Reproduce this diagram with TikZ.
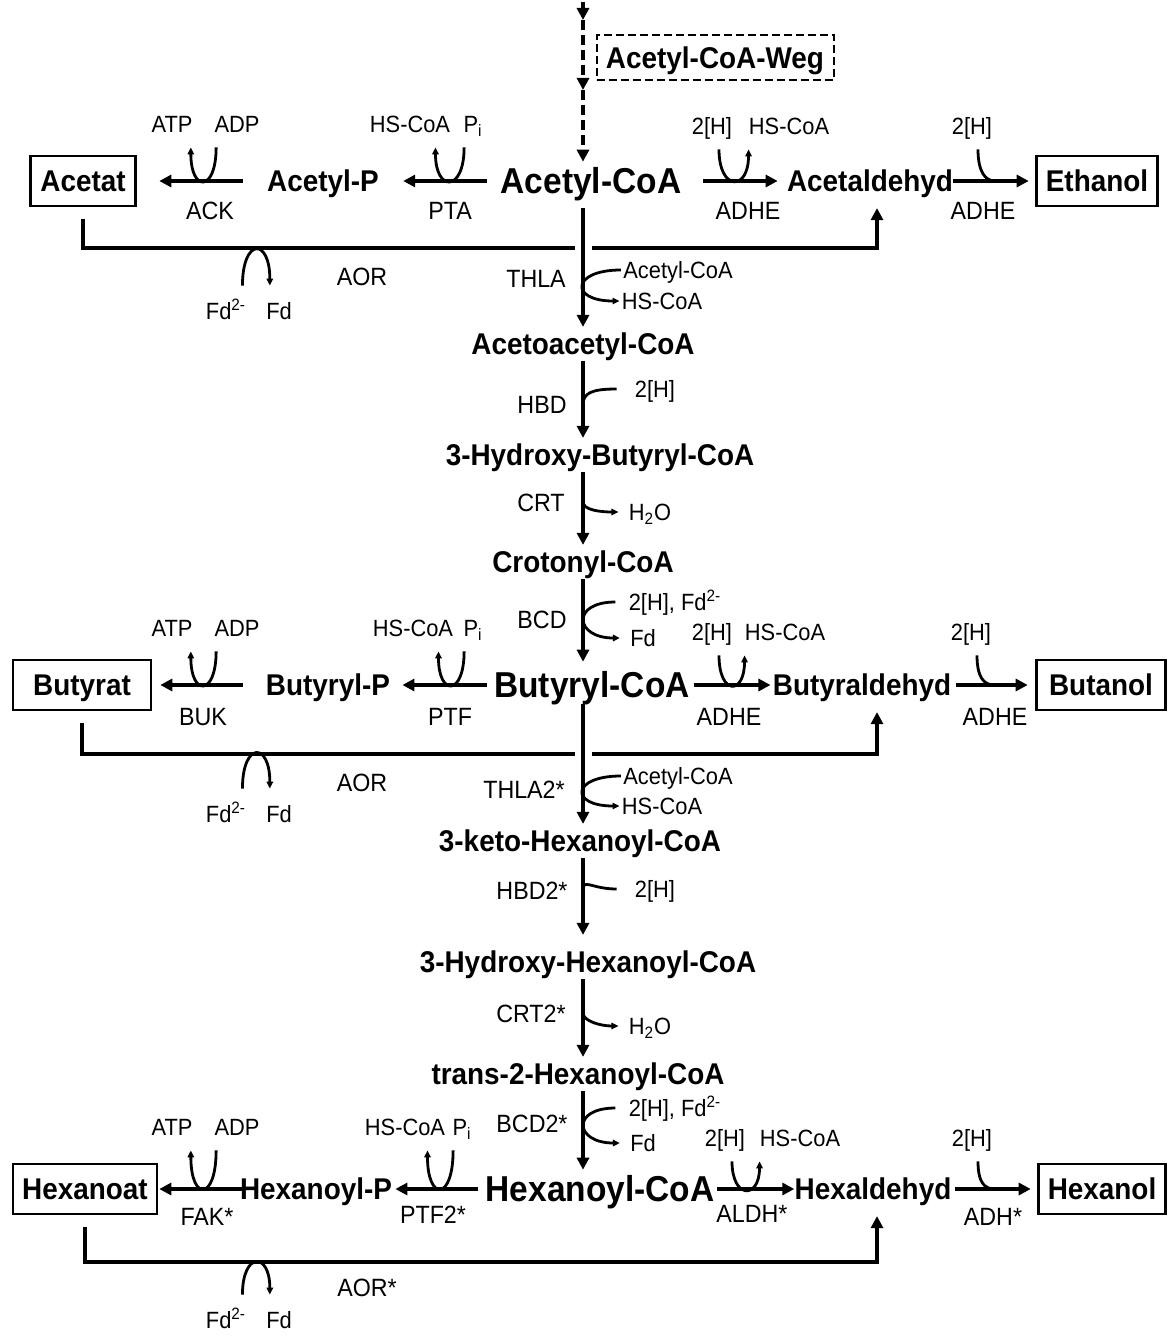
\documentclass[tikz,border=0pt]{standalone}
\usepackage{fontspec}
\setmainfont{Liberation Sans}[FakeStretch=0.93]
\usetikzlibrary{arrows.meta,positioning}
\tikzset{
  met/.style={font=\fontsize{15}{18}\selectfont\bfseries, inner xsep=0pt, inner ysep=3pt, text height=10.7pt, text depth=0pt},
  bigmet/.style={met, font=\fontsize{18}{21}\selectfont\bfseries, text height=12.9pt},
  endp/.style={draw, line width=1.3pt, font=\fontsize{15}{18}\selectfont\bfseries, text height=10.7pt, text depth=0pt, minimum height=25pt, inner xsep=0pt},
  weg/.style={draw, line width=1pt, dash pattern=on 4pt off 2pt, font=\fontsize{15}{18}\selectfont\bfseries, text height=10.7pt, text depth=0pt, minimum width=118.5pt, minimum height=22.5pt},
  enz/.style={font=\fontsize{12.5}{15}\selectfont, inner sep=0pt, text height=9pt, text depth=0pt},
  cof/.style={font=\fontsize{11.75}{14}\selectfont, inner sep=0pt, text height=8.4pt, text depth=0pt, outer ysep=7.5pt},
  sidecof/.style={font=\fontsize{11.75}{14}\selectfont, inner xsep=1pt, inner ysep=0pt, text height=8.4pt, text depth=0pt},
  fdl/.style={cof, outer ysep=8.5pt},
  rxn/.style={-{Triangle[length=6pt,width=6pt]}, line width=2pt},
  dashrxn/.style={rxn, dash pattern=on 5pt off 2.5pt},
  bypass/.style={line width=2pt},
  cofarr/.style={-{Triangle[length=3.5pt,width=3.2pt]}, line width=1.4pt},
  hookln/.style={line width=1.4pt},
}
\begin{document}
\begin{tikzpicture}[x=0.5pt,y=-0.5pt]
\useasboundingbox (0,0) rectangle (1167,1336);
\coordinate (col) at (583,0);

% main chain
\node[bigmet] (accoa) at (591,181) {Acetyl-CoA};
\node[bigmet] (bucoa) at (592,685) {Butyryl-CoA};
\node[bigmet] (hexcoa) at (600,1189) {Hexanoyl-CoA};
\foreach \n/\t/\x/\y in {acac/Acetoacetyl-CoA/583/344, hbcoa/3-Hydroxy-Butyryl-CoA/600/455, crcoa/Crotonyl-CoA/583/562, kethex/3-keto-Hexanoyl-CoA/580/841, hhcoa/3-Hydroxy-Hexanoyl-CoA/588/962, trcoa/trans-2-Hexanoyl-CoA/578/1074}
  \node[met] (\n) at (\x,\y) {\t};
\foreach \n/\t/\x/\y in {pa/Acetyl-P/323/181, alda/Acetaldehyd/870/181, pb/Butyryl-P/328/685, aldb/Butyraldehyd/862/685, pc/Hexanoyl-P/316/1189, aldc/Hexaldehyd/873/1189}
  \node[met] (\n) at (\x,\y) {\t};

% end products
\foreach \n/\t/\x/\w/\y in {acida/Acetat/83/52.5/181, acidb/Butyrat/82/69/685, acidc/Hexanoat/85/72/1189, alca/Ethanol/1097/60.5/181, alcb/Butanol/1101/64.5/685, alcc/Hexanol/1102/63.5/1189}
  \node[endp, minimum width=\w pt] (\n) at (\x,\y) {\t};
\node[weg] (weg) at (715,58) {Acetyl-CoA-Weg};

% enzymes
\foreach \n/\t/\x/\y in {acka/ACK/210/211, ptaa/PTA/450/211, adhea/ADHE/748/211, adhfa/ADHE/983/211, aora/AOR/362/277,
    thla/THLA/536/279, hbd/HBD/542/405, crt/CRT/541/502, bcd/BCD/542/619,
    bukb/BUK/203/716, ptfb/PTF/450/716, adheb/ADHE/729/716, adhfb/ADHE/995/716, aorb/AOR/362/782,
    thlb/THLA2*/524/789, hbdb/HBD2*/532/890, crtb/CRT2*/531/1013, bcdb/BCD2*/532/1123,
    fakc/FAK*/207/1216, ptfc/PTF2*/433/1214, aldhc/ALDH*/752/1213, adhc/ADH*/993/1216, aorc/AOR*/367/1287}
  \node[enz] (\n) at (\x,\y) {\t};

% cofactors over the side reactions
\foreach \r/\y in {a/124, b/628, c/1127} {
  \node[cof] (atp\r) at (172,\y) {ATP};
  \node[cof] (adp\r) at (237,\y) {ADP};
}
\foreach \n/\t/\x/\y in {hsa/HS-CoA/410/124, pia/P\textsubscript{i}/473/124, hha/2[H]/712/126, hsra/HS-CoA/789/126, hea/2[H]/972/126,
    hsb/HS-CoA/413/628, pib/P\textsubscript{i}/473/628, hhb/2[H]/712/632, hsrb/HS-CoA/785/632, heb/2[H]/971/632,
    hsc/HS-CoA/405/1127, pic/P\textsubscript{i}/462/1127, hhc/2[H]/725/1138, hsrc/HS-CoA/800/1138, hec/2[H]/972/1138}
  \node[cof] (\n) at (\x,\y) {\t};
\foreach \r/\y in {a/311, b/814, c/1320} {
  \node[fdl] (fdr\r) at (226,\y) {Fd\textsuperscript{2-}};
  \node[fdl] (fdo\r) at (279,\y) {Fd};
}

% cofactors along the chain
\foreach \n/\t/\x/\y in {acs1/Acetyl-CoA/678/270, hss1/HS-CoA/662/301, hh1/2[H]/655/389, wa1/H\textsubscript{2}O/650/512, red1/{2[H], Fd\textsuperscript{2-}}/675/602, fd1/Fd/643/638,
    acs2/Acetyl-CoA/678/776, hss2/HS-CoA/662/806, hh2/2[H]/655/889, wa2/H\textsubscript{2}O/650/1026, red2/{2[H], Fd\textsuperscript{2-}}/675/1108, fd2/Fd/643/1143}
  \node[sidecof] (\n) at (\x,\y) {\t};

% Acetyl-CoA-Weg
\coordinate (wtop) at (583,2);
\coordinate (w1) at (583,20);
\coordinate (w2) at (583,90);
\draw[dashrxn] (wtop) -- (w1);
\draw[dashrxn] (w1) -- (w2);
\draw[dashrxn] (w2) -- (accoa.north -| col);

% AOR bypass
\foreach \r/\y/\a/\b/\h in {a/248/575/592/48, b/754/575/592/47, c/1262/583/583/43} {
  \coordinate (byl\r) at (\a,\y);
  \coordinate (byr\r) at (\b,\y);
  \coordinate (turn\r) at (877,\y);
  \draw[bypass, shorten <=6pt] (acid\r.south) |- (byl\r);
  \draw[bypass, -{Triangle[length=6pt,width=6pt]}, shorten >=5pt] (byr\r) -- (turn\r) -- (turn\r |- ald\r.south);
  \draw[cofarr] ([xshift=-2pt]fdr\r.north east) .. controls +(0,-\h) and +(0,-\h) .. ([xshift=2pt]fdo\r.north west);
}

% chain
\foreach \a/\b/\s/\e in {accoa/acac/4/0, acac/hbcoa/0/0, hbcoa/crcoa/0/0, crcoa/bucoa/0/2, bucoa/kethex/0/0, kethex/hhcoa/0/5, hhcoa/trcoa/0/0, trcoa/hexcoa/0/0}
  \draw[rxn, shorten <=\s pt, shorten >=\e pt] (\a.south -| col) -- (\b.north -| col);

% side reactions
\draw[rxn, shorten <=12pt, shorten >=11.25pt] (pa) -- (acida);
\draw[rxn, shorten <=6.85pt, shorten >=12pt] (accoa) -- (pa);
\draw[rxn, shorten <=10.85pt, shorten >=4.5pt] (accoa) -- (alda);
\draw[rxn, shorten >=3.25pt] (alda) -- (alca);
\draw[rxn, shorten <=11.5pt, shorten >=4pt] (pb) -- (acidb);
\draw[rxn, shorten <=3.65pt, shorten >=6pt] (bucoa) -- (pb);
\draw[rxn, shorten <=2.15pt, shorten >=1pt] (bucoa) -- (aldb);
\draw[rxn, shorten <=2pt, shorten >=3.75pt] (aldb) -- (alcb);
\draw[rxn, shorten <=-1.5pt, shorten >=0.5pt] (pc) -- (acidc);
\draw[rxn, shorten <=3.75pt, shorten >=1.5pt] (hexcoa) -- (pc);
\draw[rxn, shorten <=1.25pt] (hexcoa) -- (aldc);
\draw[rxn, shorten <=1.85pt, shorten >=3.25pt] (aldc) -- (alcc);

% cofactor loops
\foreach \r/\d/\e/\s/\f in {a/45/42/-7.5/a, b/45/40/-7.5/b, c/51/38/-9/c} {
  \draw[cofarr] ([xshift=1pt]adp\r.south west) .. controls +(0,\d) and +(0,\d) .. ([xshift=-1pt]atp\r.south east);
  \draw[cofarr] ([xshift=0.5pt]pi\r.south west) .. controls +(0,\d) and +(0,\d) .. ([xshift=\s pt]hs\r.south east);
  \draw[cofarr] ([xshift=3.5pt]hh\r.south) .. controls +(0,\e) and +(0,\e) .. (hsr\r.south west);
  \draw[hookln] ([xshift=3pt]he\r.south) .. controls +(0,22) and +(-10,0) .. ([xshift=11.5pt]he\r.south |- ald\f);
}
\foreach \i/\h/\c/\w/\k in {1/hbd/crt/bcd/wa1, 2/hbdb/crtb/bcdb/wa2} {
  \draw[cofarr] (acs\i.west) .. controls +(-50,0) and +(-50,0) .. (hss\i.west);
  \draw[hookln] ([xshift=-8pt]hh\i.west) .. controls +(-25,0) and +(0,-12) .. (col |- \h);
  \draw[cofarr] (col |- \c) .. controls +(0,8) and +(-18,0) .. ([xshift=-4pt]\k.west);
  \draw[cofarr] ([xshift=-5.5pt]red\i.west) .. controls +(-45,0) and +(-45,0) .. ([xshift=-4pt]fd\i.west);
}
\end{tikzpicture}
\end{document}
